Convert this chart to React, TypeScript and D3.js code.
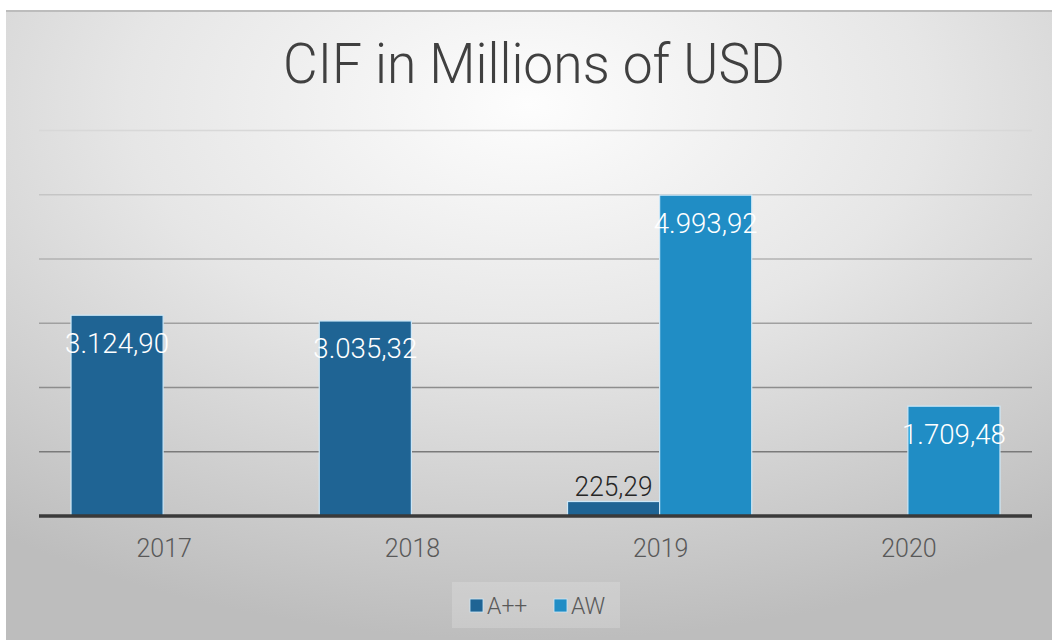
import React from "react";
import * as d3 from "d3";

const categories = ["2017", "2018", "2019", "2020"];
const seriesNames = ["A++", "AW"];
const seriesAPlus: (number | null)[] = [3124.9, 3035.32, 225.29, null];
const seriesAW: (number | null)[] = [null, null, 4993.92, 1709.48];
const yTicks = [0, 1000, 2000, 3000, 4000, 5000, 6000];
const title = "CIF in Millions of USD";

const colors = ["#1F6494", "#208DC5"];

const W = 1052;
const H = 640;

const locale = d3.formatLocale({
  decimal: ",",
  thousands: ".",
  grouping: [3],
  currency: ["", ""],
});
const fmt = locale.format(",.2f");

const FONT = "Roboto, 'Liberation Sans', Arial, sans-serif";

export default function App() {
  const x = d3.scaleBand<string>().domain(categories).range([39, 1032]).padding(0);
  const y = d3.scaleLinear().domain([0, 6000]).range([516, 130.5]);
  const bw = x.step() * 0.371;

  const series = [seriesAPlus, seriesAW];
  const gridColor = d3
    .scaleLinear<string>()
    .domain([6000, 1000])
    .range(["#d8d8d8", "#7a7a7a"]);

  return (
    <div style={{ position: "absolute", left: 0, top: 0 }}>
      <svg width={W} height={H} style={{ display: "block" }}>
        <defs>
          <radialGradient id="bg" cx="50%" cy="15%" r="85%" fx="50%" fy="15%">
            <stop offset="0%" stopColor="#fdfdfd" />
            <stop offset="45%" stopColor="#e6e6e6" />
            <stop offset="100%" stopColor="#bdbdbd" />
          </radialGradient>
        </defs>
        <rect x={0} y={0} width={W} height={H} fill="#ffffff" />
        <rect x={6} y={10} width={W - 6} height={H - 10} fill="url(#bg)" />
        <line x1={6} x2={W} y1={11} y2={11} stroke="#bcbcbc" strokeWidth={2} />

        <text
          x={534}
          y={83}
          textAnchor="middle"
          fontFamily={FONT}
          fontWeight={300}
          fontSize={56}
          fill="#404040"
          textLength={502}
          lengthAdjust="spacingAndGlyphs"
        >
          {title}
        </text>

        {yTicks
          .filter((t) => t > 0)
          .map((t) => (
            <line
              key={t}
              x1={39}
              x2={1032}
              y1={y(t)}
              y2={y(t)}
              stroke={gridColor(t)}
              strokeWidth={1.5}
            />
          ))}

        {series.map((vals, si) =>
          vals.map((v, i) => {
            if (v == null) return null;
            const c = categories[i];
            const cx = (x(c) as number) + x.step() / 2;
            const x0 = si === 0 ? cx - bw : cx;
            return (
              <rect
                key={`b-${si}-${i}`}
                x={x0}
                y={y(v)}
                width={bw}
                height={y(0) - y(v)}
                fill={colors[si]}
                stroke="#cde8f8"
                strokeWidth={1.2}
              />
            );
          })
        )}

        <line x1={39} x2={1032} y1={516} y2={516} stroke="#3a3a3a" strokeWidth={3.5} />

        {series.map((vals, si) =>
          vals.map((v, i) => {
            if (v == null) return null;
            const c = categories[i];
            const cx = (x(c) as number) + x.step() / 2;
            const mid = si === 0 ? cx - bw / 2 : cx + bw / 2;
            const h = y(0) - y(v);
            const inside = h > 50;
            const label = fmt(v);
            return (
              <text
                key={`l-${si}-${i}`}
                x={mid}
                y={inside ? y(v) + 37.5 : y(v) - 6}
                textAnchor="middle"
                fontFamily={FONT}
                fontWeight={300}
                fontSize={27}
                fill={inside ? "#ffffff" : "#262626"}
                textLength={label.length * 13}
                lengthAdjust="spacingAndGlyphs"
              >
                {label}
              </text>
            );
          })
        )}

        {categories.map((c) => (
          <text
            key={c}
            x={(x(c) as number) + x.step() / 2 + 1}
            y={557}
            textAnchor="middle"
            fontFamily={FONT}
            fontWeight={300}
            fontSize={25}
            fill="#595959"
          >
            {c}
          </text>
        ))}

        <rect x={452} y={582} width={168} height={46} fill="#ffffff" opacity={0.18} />
        {seriesNames.map((s, i) => {
          const lx = i === 0 ? 470 : 554;
          return (
            <g key={s}>
              <rect x={lx} y={599} width={13} height={13} fill={colors[i]} stroke="#cde8f8" strokeWidth={0.8} />
              <text
                x={lx + 17}
                y={614}
                fontFamily={FONT}
                fontWeight={300}
                fontSize={23}
                fill="#595959"
              >
                {s}
              </text>
            </g>
          );
        })}
      </svg>
    </div>
  );
}
